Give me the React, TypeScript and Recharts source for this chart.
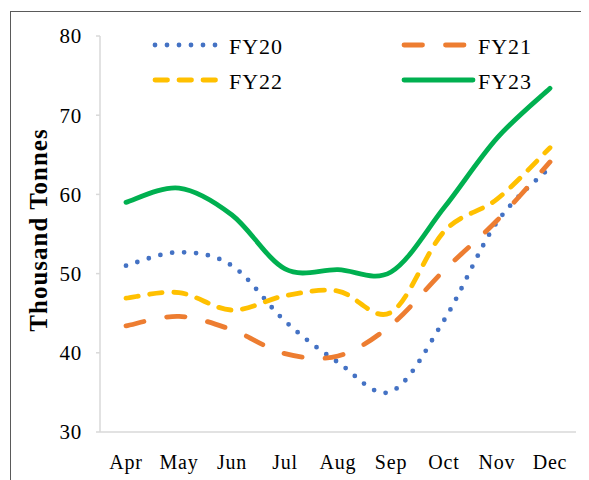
import { Label, Line, LineChart, XAxis, YAxis } from "recharts";

const months = ["Apr", "May", "Jun", "Jul", "Aug", "Sep", "Oct", "Nov", "Dec"];
const fy20 = [51.0, 52.7, 51.0, 44.0, 38.8, 35.1, 44.1, 56.5, 63.4];
const fy21 = [43.4, 44.6, 42.9, 39.9, 39.6, 43.5, 50.4, 56.7, 64.1];
const fy22 = [46.9, 47.6, 45.4, 47.2, 47.8, 45.1, 55.3, 59.4, 65.9];
const fy23 = [59.0, 60.8, 57.4, 50.6, 50.5, 50.2, 58.3, 67.1, 73.4];
const yTicks = [30, 40, 50, 60, 70, 80];

const data = months.map((m, i) => ({
  month: m,
  FY20: fy20[i],
  FY21: fy21[i],
  FY22: fy22[i],
  FY23: fy23[i]
}));

const font = '"Liberation Serif", "Times New Roman", serif';

const series = [
  { key: "FY20", color: "#4472C4", dash: "0 12" },
  { key: "FY21", color: "#ED7D31", dash: "18.5 23" },
  { key: "FY22", color: "#FFC000", dash: "12.5 11.5" },
  { key: "FY23", color: "#00B050", dash: undefined as string | undefined }
];

// legend slots (two columns, two rows)
const slots = [
  { x: 145, y: 37 },
  { x: 394, y: 37 },
  { x: 145, y: 72 },
  { x: 394, y: 72 }
];

// office-style smoothed line (catmull-rom like bezier)
function smoothCurve(ctx: any) {
  let pts: number[][] = [];
  return {
    areaStart() {},
    areaEnd() {},
    lineStart() {
      pts = [];
    },
    lineEnd() {
      const n = pts.length;
      if (!n) return;
      ctx.moveTo(pts[0][0], pts[0][1]);
      for (let i = 0; i < n - 1; i++) {
        const p0 = pts[i - 1] || pts[i];
        const p1 = pts[i];
        const p2 = pts[i + 1];
        const p3 = pts[i + 2] || p2;
        ctx.bezierCurveTo(
          p1[0] + (p2[0] - p0[0]) / 6,
          p1[1] + (p2[1] - p0[1]) / 6,
          p2[0] - (p3[0] - p1[0]) / 6,
          p2[1] - (p3[1] - p1[1]) / 6,
          p2[0],
          p2[1]
        );
      }
    },
    point(x: number, y: number) {
      pts.push([x, y]);
    }
  };
}

function LegendBox() {
  return (
    <svg width={581} height={100} style={{ position: "absolute", left: 0, top: 0 }}>
      {series.map((s, i) => {
        const p = slots[i];
        const len = s.dash ? 66 : 71;
        return (
          <g key={s.key}>
            <line
              x1={p.x + 2}
              y1={p.y}
              x2={p.x + len}
              y2={p.y}
              stroke={s.color}
              strokeWidth={4.8}
              strokeLinecap="round"
              strokeDasharray={s.dash}
            />
            <text
              x={p.x + 76}
              y={p.y + 9}
              fontFamily={font}
              fontSize={22}
              letterSpacing={1}
              fill="#000"
            >
              {s.key}
            </text>
          </g>
        );
      })}
    </svg>
  );
}

export default function App() {
  return (
    <div style={{ position: "relative", width: 581, height: 472, overflow: "hidden", background: "#fff" }}>
      <div
        style={{
          position: "absolute",
          left: 2,
          top: 3,
          width: 620,
          height: 520,
          border: "1.5px solid #5a5a5a"
        }}
      />
      <LineChart
        width={581}
        height={472}
        data={data}
        margin={{ top: 28, right: 13, left: 0, bottom: 0 }}
        style={{ position: "absolute", left: 0, top: 0 }}
      >
        <XAxis
          dataKey="month"
          height={48}
          padding={{ left: 26, right: 26 }}
          axisLine={{ stroke: "#d9d9d9", strokeWidth: 1.5 }}
          tickLine={false}
          tickMargin={17}
          tick={{ fill: "#000", fontSize: 20, fontFamily: font, letterSpacing: 0.8 }}
          interval={0}
        />
        <YAxis
          width={92}
          domain={[30, 80]}
          ticks={yTicks}
          interval={0}
          axisLine={{ stroke: "#d9d9d9", strokeWidth: 1.5 }}
          tickLine={{ stroke: "#d9d9d9", strokeWidth: 1.5 }}
          tickSize={4}
          tickMargin={14}
          tick={{ fill: "#000", fontSize: 21, fontFamily: font, letterSpacing: 0.8 }}
        >
          <Label
            content={({ viewBox }) => {
              const vb = viewBox as { x: number; y: number; height: number };
              const cy = vb.y + vb.height / 2 - 4;
              return (
                <text
                  x={39}
                  y={cy}
                  transform={`rotate(-90, 39, ${cy})`}
                  textAnchor="middle"
                  fontFamily={font}
                  fontWeight="bold"
                  fontSize={25}
                  letterSpacing={1}
                  fill="#000"
                >
                  Thousand Tonnes
                </text>
              );
            }}
          />
        </YAxis>
        {series.map((s) => (
          <Line
            key={s.key}
            type={smoothCurve as any}
            dataKey={s.key}
            stroke={s.color}
            strokeWidth={4.8}
            strokeLinecap="round"
            strokeDasharray={s.dash}
            dot={false}
            activeDot={false}
            isAnimationActive={false}
          />
        ))}
      </LineChart>
      <LegendBox />
    </div>
  );
}
